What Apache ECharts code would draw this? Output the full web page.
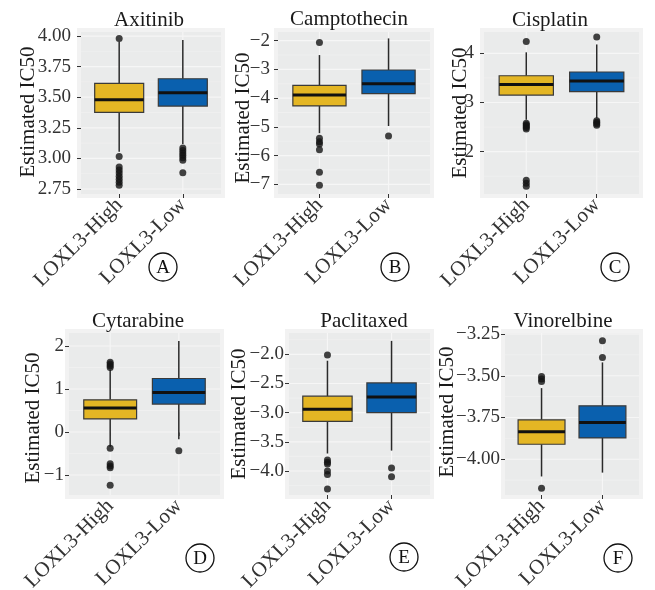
<!DOCTYPE html>
<html>
<head>
<meta charset="utf-8">
<script src="https://cdn.jsdelivr.net/npm/echarts@6/dist/echarts.min.js"></script>
<style>
  html, body { margin: 0; padding: 0; background: #ffffff; }
  #chart { width: 655px; height: 590px; }
</style>
</head>
<body>
<div id="chart"></div>
<script>
// Groups compared in every panel and their fill colours
const groups = ['LOXL3-High', 'LOXL3-Low'];
const groupColors = ['#E4B624', '#0A60AE'];

// Box summaries: [lower whisker, Q1, median, Q3, upper whisker]
const axitinibHigh = [3.055, 3.376, 3.48, 3.613, 3.954];
const axitinibLow = [3.117, 3.428, 3.537, 3.651, 3.967];
const axitinibHighOutliers = [3.98, 3.016, 2.93, 2.905, 2.88, 2.855, 2.83, 2.805, 2.78];
const axitinibLowOutliers = [3.085, 3.065, 3.045, 3.025, 3.005, 2.985, 2.883];
const axitinibTicks = [2.75, 3.00, 3.25, 3.50, 3.75, 4.00];

const camptothecinHigh = [-5.22, -4.27, -3.89, -3.555, -2.50];
const camptothecinLow = [-4.97, -3.84, -3.50, -3.02, -1.92];
const camptothecinHighOutliers = [-2.06, -5.40, -5.52, -5.60, -5.80, -6.58, -7.03];
const camptothecinLowOutliers = [-5.32];
const camptothecinTicks = [-7, -6, -5, -4, -3, -2];

const cisplatinHigh = [2.65, 3.15, 3.367, 3.544, 4.02];
const cisplatinLow = [2.68, 3.22, 3.435, 3.62, 4.18];
const cisplatinHighOutliers = [4.24, 2.58, 2.55, 2.52, 2.49, 2.46, 1.42, 1.36, 1.30];
const cisplatinLowOutliers = [4.33, 2.63, 2.60, 2.57, 2.54];
const cisplatinTicks = [2, 3, 4];

const cytarabineHigh = [-0.344, 0.305, 0.557, 0.748, 1.45];
const cytarabineLow = [-0.168, 0.649, 0.916, 1.244, 2.115];
const cytarabineHighOutliers = [1.62, 1.58, 1.54, 1.50, -0.38, -0.74, -0.79, -0.83, -1.24];
const cytarabineLowOutliers = [-0.435];
const cytarabineTicks = [-1, 0, 1, 2];

const paclitaxedHigh = [-3.70, -3.15, -2.94, -2.718, -2.11];
const paclitaxedLow = [-3.65, -3.00, -2.73, -2.49, -1.77];
const paclitaxedHighOutliers = [-2.01, -3.81, -3.85, -3.88, -4.00, -4.06, -4.31];
const paclitaxedLowOutliers = [-3.95, -4.10];
const paclitaxedTicks = [-4.0, -3.5, -3.0, -2.5, -2.0];

const vinorelbineHigh = [-4.103, -3.91, -3.836, -3.764, -3.574];
const vinorelbineLow = [-4.08, -3.872, -3.78, -3.68, -3.42];
const vinorelbineHighOutliers = [-3.505, -3.52, -3.535, -4.173];
const vinorelbineLowOutliers = [-3.39, -3.29];
const vinorelbineTicks = [-4.00, -3.75, -3.50, -3.25];

// Panel layout (pixel boxes, axis extents, text anchors)
const panels = [
  { title: 'Axitinib', tag: 'A', high: axitinibHigh, low: axitinibLow,
    highOut: axitinibHighOutliers, lowOut: axitinibLowOutliers, ticks: axitinibTicks, digits: 2,
    left: 81, top: 32, width: 140, height: 162, yMin: 2.709, yMax: 4.033, labelGap: 10,
    titleX: 149, titleY: 20, nameX: 28, nameY: 112, tagX: 163, tagY: 267 },
  { title: 'Camptothecin', tag: 'B', high: camptothecinHigh, low: camptothecinLow,
    highOut: camptothecinHighOutliers, lowOut: camptothecinLowOutliers, ticks: camptothecinTicks, digits: 0,
    left: 278, top: 32, width: 152, height: 162, yMin: -7.338, yMax: -1.697, labelGap: 8,
    titleX: 349, titleY: 19, nameX: 243, nameY: 118, tagX: 395, tagY: 267 },
  { title: 'Cisplatin', tag: 'C', high: cisplatinHigh, low: cisplatinLow,
    highOut: cisplatinHighOutliers, lowOut: cisplatinLowOutliers, ticks: cisplatinTicks, digits: 0,
    left: 484, top: 32, width: 155, height: 162, yMin: 1.140, yMax: 4.433, labelGap: 10,
    titleX: 550, titleY: 20, nameX: 460, nameY: 113, tagX: 615, tagY: 267 },
  { title: 'Cytarabine', tag: 'D', high: cytarabineHigh, low: cytarabineLow,
    highOut: cytarabineHighOutliers, lowOut: cytarabineLowOutliers, ticks: cytarabineTicks, digits: 0,
    left: 69, top: 333, width: 151, height: 162, yMin: -1.465, yMax: 2.302, labelGap: 5,
    titleX: 138, titleY: 321, nameX: 33, nameY: 418, tagX: 200, tagY: 558 },
  { title: 'Paclitaxed', tag: 'E', high: paclitaxedHigh, low: paclitaxedLow,
    highOut: paclitaxedHighOutliers, lowOut: paclitaxedLowOutliers, ticks: paclitaxedTicks, digits: 1,
    left: 289, top: 333, width: 141, height: 162, yMin: -4.411, yMax: -1.635, labelGap: 5,
    titleX: 364, titleY: 321, nameX: 239, nameY: 414, tagX: 404, tagY: 557 },
  { title: 'Vinorelbine', tag: 'F', high: vinorelbineHigh, low: vinorelbineLow,
    highOut: vinorelbineHighOutliers, lowOut: vinorelbineLowOutliers, ticks: vinorelbineTicks, digits: 2,
    left: 505, top: 333, width: 134, height: 162, yMin: -4.214, yMax: -3.244, labelGap: 5,
    titleX: 563, titleY: 321, nameX: 447, nameY: 412, tagX: 618, tagY: 558 }
];

const SERIF = '"Liberation Serif", "Times New Roman", serif';
const BOX_FRACTION = 0.77;

function formatTick(v, digits) {
  return Number(v).toFixed(digits).replace('-', '\u2212');
}

// Minor breaks sit halfway between majors (one extra step on each side, clipped)
function minorBreaks(ticks) {
  const step = ticks[1] - ticks[0];
  const out = [ticks[0] - step / 2];
  ticks.forEach(t => out.push(t + step / 2));
  return out;
}

function hLineItem(color, width) {
  return function (params, api) {
    const y = api.coord([1, api.value(1)])[1];
    const cs = params.coordSys;
    if (y < cs.y - 0.5 || y > cs.y + cs.height + 0.5) return null;
    return { type: 'line', silent: true,
      shape: { x1: cs.x, y1: y, x2: cs.x + cs.width, y2: y },
      style: { stroke: color, lineWidth: width } };
  };
}

function vLineItem(params, api) {
  const x = api.coord([api.value(0), 0])[0];
  const cs = params.coordSys;
  return { type: 'line', silent: true,
    shape: { x1: x, y1: cs.y, x2: x, y2: cs.y + cs.height },
    style: { stroke: '#F6F6F6', lineWidth: 1.1 } };
}

function boxItem(params, api) {
  const x = api.value(0);
  const pLo = api.coord([x, api.value(1)]);
  const pQ1 = api.coord([x, api.value(2)]);
  const pMed = api.coord([x, api.value(3)]);
  const pQ3 = api.coord([x, api.value(4)]);
  const pHi = api.coord([x, api.value(5)]);
  const half = api.size([BOX_FRACTION, 0])[0] / 2;
  const fill = groupColors[params.dataIndex];
  return { type: 'group', children: [
    { type: 'line', shape: { x1: pLo[0], y1: pLo[1], x2: pQ1[0], y2: pQ1[1] },
      style: { stroke: '#2a2a2a', lineWidth: 1.5 } },
    { type: 'line', shape: { x1: pQ3[0], y1: pQ3[1], x2: pHi[0], y2: pHi[1] },
      style: { stroke: '#2a2a2a', lineWidth: 1.5 } },
    { type: 'rect', shape: { x: pQ3[0] - half, y: pQ3[1], width: half * 2, height: pQ1[1] - pQ3[1] },
      style: { fill: fill, stroke: '#3a3a3a', lineWidth: 1.2 } },
    { type: 'line', shape: { x1: pMed[0] - half, y1: pMed[1], x2: pMed[0] + half, y2: pMed[1] },
      style: { stroke: '#111111', lineWidth: 3 } }
  ] };
}

const grid = [], xAxis = [], yAxis = [], series = [], graphic = [];

panels.forEach((p, i) => {
  grid.push({ left: p.left, top: p.top, width: p.width, height: p.height,
    outerBoundsMode: 'none', containLabel: false,
    show: true, backgroundColor: '#EAEBEB', borderWidth: 0 });

  // soft frame around each panel
  graphic.push({ type: 'rect', z: -10, silent: true,
    shape: { x: p.left - 4, y: p.top - 4, width: p.width + 8, height: p.height + 8 },
    style: { fill: '#F2F2F2' } });

  xAxis.push({ gridIndex: i, type: 'value', min: 0.4, max: 2.6,
    axisLine: { show: false }, splitLine: { show: false },
    axisTick: { show: true, length: 4, customValues: [1, 2], lineStyle: { color: '#333', width: 1 } },
    axisLabel: { customValues: [1, 2], rotate: 45, margin: 8,
      formatter: v => groups[Math.round(v) - 1],
      fontFamily: SERIF, fontSize: 21, color: '#333' } });

  yAxis.push({ gridIndex: i, type: 'value', min: p.yMin, max: p.yMax,
    axisLine: { show: false }, splitLine: { show: false },
    axisTick: { show: true, length: 4, customValues: p.ticks, lineStyle: { color: '#333', width: 1 } },
    axisLabel: { customValues: p.ticks, margin: p.labelGap, showMinLabel: true, showMaxLabel: true,
      formatter: v => formatTick(v, p.digits),
      fontFamily: SERIF, fontSize: 19, color: '#333' } });

  // panel grid: minor, major, vertical
  series.push({ type: 'custom', xAxisIndex: i, yAxisIndex: i, z: 1, silent: true,
    encode: { x: 0, y: 1 }, data: minorBreaks(p.ticks).map(v => [1, v]),
    renderItem: hLineItem('#F1F1F1', 0.7) });
  series.push({ type: 'custom', xAxisIndex: i, yAxisIndex: i, z: 1, silent: true,
    encode: { x: 0, y: 1 }, data: p.ticks.map(v => [1, v]),
    renderItem: hLineItem('#F6F6F6', 1.2) });
  series.push({ type: 'custom', xAxisIndex: i, yAxisIndex: i, z: 1, silent: true,
    encode: { x: 0, y: 1 }, data: [[1, p.yMin], [2, p.yMin]],
    renderItem: vLineItem });

  // boxes
  series.push({ type: 'custom', xAxisIndex: i, yAxisIndex: i, z: 2,
    encode: { x: 0, y: [1, 2, 3, 4, 5] },
    data: [[1].concat(p.high), [2].concat(p.low)],
    renderItem: boxItem });

  // outliers
  series.push({ type: 'scatter', xAxisIndex: i, yAxisIndex: i, z: 3,
    symbol: 'circle', symbolSize: 7, itemStyle: { color: '#141414' },
    data: p.highOut.map(v => [1, v]).concat(p.lowOut.map(v => [2, v])) });

  graphic.push({ type: 'text', x: p.titleX, y: p.titleY, z: 10,
    style: { text: p.title, font: '21px ' + SERIF, fill: '#1a1a1a', align: 'center', verticalAlign: 'middle' } });
  graphic.push({ type: 'text', x: p.nameX, y: p.nameY, rotation: Math.PI / 2, z: 10,
    style: { text: 'Estimated IC50', font: '21px ' + SERIF, fill: '#1a1a1a', align: 'center', verticalAlign: 'middle' } });
  graphic.push({ type: 'circle', z: 10, shape: { cx: p.tagX, cy: p.tagY, r: 14 },
    style: { fill: 'rgba(255,255,255,0)', stroke: '#111', lineWidth: 1.3 } });
  graphic.push({ type: 'text', x: p.tagX, y: p.tagY + 1, z: 11,
    style: { text: p.tag, font: '19px ' + SERIF, fill: '#111', align: 'center', verticalAlign: 'middle' } });
});

const chart = echarts.init(document.getElementById('chart'), null, { renderer: 'canvas' });
chart.setOption({
  animation: false,
  backgroundColor: '#ffffff',
  grid, xAxis, yAxis, series, graphic
});
</script>
</body>
</html>
